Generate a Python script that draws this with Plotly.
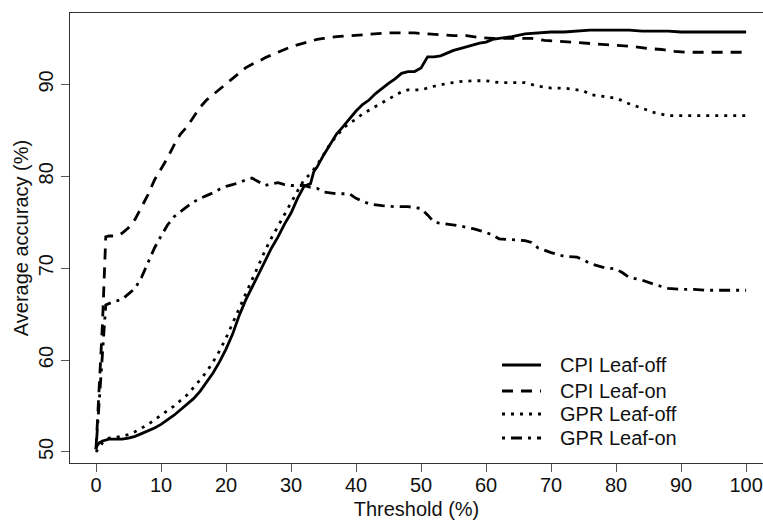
import plotly.graph_objects as go

# CPI Leaf-off (solid)
cpi_off_x = [0, 0.5, 1, 2, 3, 4, 5, 6, 7, 8, 9, 10, 11, 12, 13, 14, 15, 16, 17, 18, 19, 20,
             21, 22, 23, 24, 25, 26, 27, 28, 29, 30, 31, 32, 33, 33.5, 34, 35, 36, 37, 38, 39, 40,
             41, 42, 43, 44, 45, 46, 47, 48, 49, 50, 51, 52, 53, 54, 55, 56, 57, 58, 59, 60,
             61, 62, 64, 66, 68, 70, 72, 74, 76, 78, 80, 82, 84, 86, 88, 90, 92, 94, 96, 98, 100]
cpi_off_y = [50.5, 51.0, 51.2, 51.4, 51.4, 51.4, 51.5, 51.7, 52.0, 52.3, 52.6, 53.0, 53.5, 54.0,
             54.6, 55.2, 55.8, 56.6, 57.6, 58.6, 59.8, 61.2, 62.8, 64.8, 66.5, 67.9, 69.4, 70.8,
             72.2, 73.4, 74.8, 76.0, 77.6, 78.9, 79.2, 80.5, 81.0, 82.3, 83.5, 84.6, 85.4, 86.3,
             87.1, 87.8, 88.3, 89.0, 89.6, 90.1, 90.6, 91.2, 91.4, 91.4, 91.8, 93.0, 93.0, 93.1,
             93.4, 93.7, 93.9, 94.1, 94.3, 94.5, 94.6, 94.9, 95.0, 95.2, 95.5, 95.6, 95.7, 95.7,
             95.8, 95.9, 95.9, 95.9, 95.9, 95.8, 95.8, 95.8, 95.7, 95.7, 95.7, 95.7, 95.7, 95.7]

# CPI Leaf-on (dashed)
cpi_on_x = [0, 0.5, 1, 1.5, 2, 3, 3.5, 4, 5, 6, 7, 8, 9, 10, 11, 12, 13, 14, 15, 16, 17, 18, 19,
            20, 21, 22, 23, 24, 25, 26, 27, 28, 29, 30, 31, 32, 33, 34, 35, 37, 39, 41, 43, 45,
            47, 49, 51, 53, 55, 57, 59, 61, 63, 65, 67, 69, 71, 73, 75, 77, 79, 81, 83, 85, 87,
            89, 91, 93, 95, 97, 100]
cpi_on_y = [50.3, 57.0, 64.0, 73.4, 73.5, 73.5, 73.6, 73.8, 74.4, 75.3, 76.6, 78.0, 79.6, 80.8,
            82.0, 83.4, 84.6, 85.4, 86.5, 87.5, 88.3, 88.9, 89.4, 90.0, 90.6, 91.3, 91.8, 92.2,
            92.5, 92.9, 93.2, 93.5, 93.8, 94.1, 94.3, 94.5, 94.7, 94.9, 95.0, 95.2, 95.3, 95.4,
            95.5, 95.6, 95.6, 95.6, 95.5, 95.4, 95.3, 95.3, 95.1, 95.0, 95.0, 95.0, 95.0, 94.8,
            94.7, 94.6, 94.5, 94.4, 94.3, 94.2, 94.1, 93.9, 93.8, 93.6, 93.5, 93.5, 93.5, 93.5,
            93.5]

# GPR Leaf-off (dotted)
gpr_off_x = [0, 1, 2, 3, 4, 5, 6, 7, 8, 9, 10, 11, 12, 13, 14, 15, 16, 17, 18, 19, 20, 21, 22,
             23, 24, 25, 26, 27, 28, 29, 30, 31, 32, 33, 34, 35, 36, 37, 38, 39, 40, 41, 42, 43,
             44, 45, 46, 47, 48, 50, 52, 54, 56, 58, 60, 62, 64, 66, 68, 70, 72, 74, 75, 76, 78,
             80, 82, 84, 86, 88, 90, 92, 94, 96, 98, 100]
gpr_off_y = [50.0, 51.0, 51.5, 51.6, 51.7, 51.9, 52.2, 52.6, 53.0, 53.5, 54.0, 54.5, 55.0, 55.6,
             56.2, 57.0, 57.8, 58.7, 59.8, 61.0, 62.4, 64.0, 65.6, 67.2, 68.8, 70.4, 71.9, 73.3,
             74.6, 75.9, 77.1, 78.4, 79.6, 80.3, 81.2, 82.4, 83.5, 84.4, 85.2, 85.8, 86.2, 86.8,
             87.2, 87.6, 88.0, 88.4, 88.8, 89.2, 89.4, 89.4, 89.8, 90.1, 90.3, 90.4, 90.4, 90.2,
             90.2, 90.2, 89.8, 89.6, 89.6, 89.4, 89.3, 88.9, 88.7, 88.5, 87.9, 87.4, 86.9, 86.6,
             86.6, 86.6, 86.6, 86.6, 86.6, 86.6]

# GPR Leaf-on (dash-dot)
gpr_on_x = [0, 0.5, 1, 1.5, 2.5, 4, 5, 6, 7, 8, 9, 10, 11, 12, 13, 14, 15, 16, 17, 18, 19, 20,
            21, 22, 23, 24, 25, 26, 27, 28, 29, 30, 31, 32, 33, 34, 35, 37, 39, 40, 41, 42, 44,
            46, 48, 50, 51, 52, 54, 56, 58, 60, 61, 62, 64, 66, 67, 68, 70, 72, 74, 75, 76, 78,
            80, 81, 82, 84, 86, 88, 90, 92, 94, 96, 98, 100]
gpr_on_y = [50.3, 55.5, 60.5, 66.0, 66.3, 66.6, 67.2, 67.8, 69.0, 70.6, 72.2, 73.5, 74.7, 75.6,
            76.2, 76.7, 77.2, 77.6, 77.9, 78.2, 78.6, 78.9, 79.1, 79.3, 79.6, 79.8, 79.4, 79.0,
            79.2, 79.3, 79.1, 79.0, 79.0, 79.0, 78.8, 78.7, 78.3, 78.1, 78.1, 77.6, 77.3, 77.0,
            76.8, 76.7, 76.7, 76.5, 75.8, 75.0, 74.8, 74.6, 74.3, 73.9, 73.6, 73.2, 73.1, 73.0,
            72.8, 72.2, 71.7, 71.3, 71.2, 70.9, 70.5, 70.1, 69.9, 69.5, 69.0, 68.7, 68.2, 67.8,
            67.7, 67.7, 67.6, 67.6, 67.6, 67.6]

series_names = ["CPI Leaf-off", "CPI Leaf-on", "GPR Leaf-off", "GPR Leaf-on"]
x_ticks = [0, 10, 20, 30, 40, 50, 60, 70, 80, 90, 100]
y_ticks = [50, 60, 70, 80, 90]

FONT = "Liberation Sans, Arial, sans-serif"
TXT = "#111"
dashes = ["solid", "11px,8px", "3px,6px", "3px,6px,11px,6px"]
xs = [cpi_off_x, cpi_on_x, gpr_off_x, gpr_on_x]
ys = [cpi_off_y, cpi_on_y, gpr_off_y, gpr_on_y]
LW = 2.8

fig = go.Figure()
for name, x, y, d in zip(series_names, xs, ys, dashes):
    fig.add_trace(go.Scatter(x=x, y=y, mode="lines", name=name, showlegend=False,
                             line=dict(color="black", width=LW, dash=d)))

# Legend drawn in paper coordinates (key line + label per series)
leg_key_x0, leg_key_x1, leg_text_x = 0.6234, 0.6797, 0.7042
leg_rows = [0.2178, 0.1600, 0.1089, 0.0556]
for name, d, yy in zip(series_names, dashes, leg_rows):
    fig.add_shape(type="line", xref="paper", yref="paper", x0=leg_key_x0, x1=leg_key_x1,
                  y0=yy, y1=yy, line=dict(color="black", width=LW, dash=d))
    fig.add_annotation(xref="paper", yref="paper", x=leg_text_x, y=yy, text=name,
                       showarrow=False, xanchor="left", yanchor="middle",
                       font=dict(family=FONT, size=20, color=TXT))

axis_common = dict(showgrid=False, zeroline=False, showline=True, linecolor="#333",
                   linewidth=1.3, ticks="outside", ticklen=8, tickcolor="#555", tickwidth=1.2,
                   tickfont=dict(family=FONT, size=20, color=TXT))

fig.update_layout(
    width=763, height=520,
    margin=dict(l=70, r=0, t=13, b=57),
    paper_bgcolor="white", plot_bgcolor="white",
    font=dict(family=FONT, size=20, color=TXT),
    showlegend=False,
    xaxis=dict(range=[-4, 102.6], tickvals=x_ticks, mirror=True, ticklabelstandoff=-4,
               title=dict(text="Threshold (%)", font=dict(family=FONT, size=20, color=TXT),
                          standoff=6), **axis_common),
    yaxis=dict(range=[48.8, 97.77], tickvals=y_ticks, tickangle=-90,
               title=dict(text="Average accuracy (%)", font=dict(family=FONT, size=20, color=TXT),
                          standoff=0), **axis_common),
)

fig.write_html("out.html")
